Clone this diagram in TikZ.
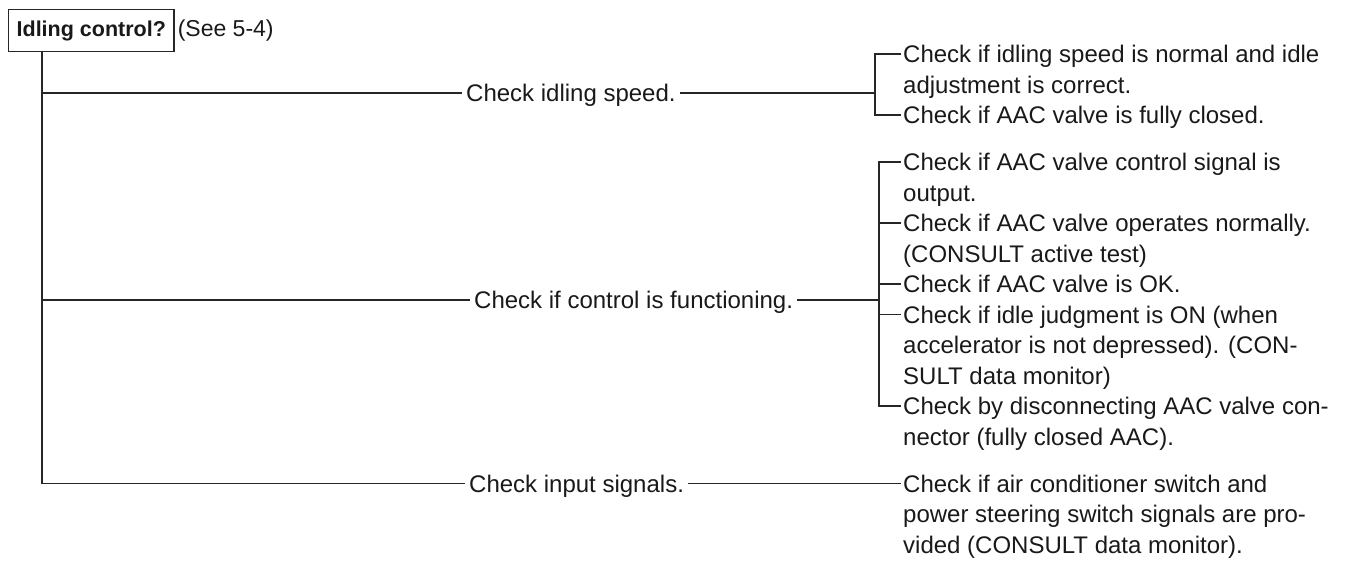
\documentclass[tikz,border=0pt]{standalone}
\usepackage{fontspec}
\setmainfont{Liberation Sans}
\usetikzlibrary{calc}
\begin{document}
\begin{tikzpicture}[x=1pt,y=-1pt,
  conn/.style={line width=1.3pt, draw=black!85},
  itembox/.style={anchor=north west, align=left, inner xsep=2pt, inner ysep=0pt,
    font=\fontsize{24}{30.5}\selectfont, text=black!90},
  branchbox/.style={anchor=west, inner xsep=4pt, inner ysep=0pt, text height=17pt, text depth=0pt,
    font=\fontsize{24}{30.5}\selectfont, text=black!90}]
\useasboundingbox (0,0) rectangle (1365,560);

% title box
\node[draw=black!85, line width=1.3pt, anchor=north west, font=\fontsize{21.5}{26}\selectfont\bfseries,
  text=black!90, minimum height=42pt, inner xsep=8pt] (box) at (8,9) {Idling control?};
\node[anchor=west, inner xsep=3pt, font=\fontsize{23}{28}\selectfont, text=black!90] (see) at (box.east) {(See 5-4)};

% junction coordinates
\coordinate (c1) at (42,93);
\coordinate (c2) at (42,300);
\coordinate (c3) at (42,483.5);
\coordinate (bk1) at (875,93);
\coordinate (bk2) at (879,300);

% branch labels
\node[branchbox] (br1) at (462,93) {Check idling speed.};
\node[branchbox] (br2) at (470,300) {Check if control is functioning.};
\node[branchbox] (br3) at (465,483.5) {Check input signals.};

% right-hand items
\node[itembox] (i1) at (901,41.15) {\strut Check if idling speed is normal and idle\\\strut adjustment is correct.};
\node[itembox] (i2) at (901,102.15) {\strut Check if AAC valve is fully closed.};
\node[itembox] (i3) at (901,149.15) {\strut Check if AAC valve control signal is\\\strut output.};
\node[itembox] (i4) at (901,210.15) {\strut Check if AAC valve operates normally.\\\strut (CONSULT active test)};
\node[itembox] (i5) at (901,271.15) {\strut Check if AAC valve is OK.};
\node[itembox] (i6) at (901,301.65) {\strut Check if idle judgment is ON (when\\\strut accelerator is not depressed). (CON-\\\strut SULT data monitor)};
\node[itembox] (i7) at (901,393.15) {\strut Check by disconnecting AAC valve con-\\\strut nector (fully closed AAC).};
\node[itembox] (i8) at (901,470.65) {\strut Check if air conditioner switch and\\\strut power steering switch signals are pro-\\\strut vided (CONSULT data monitor).};

% tick points
\coordinate (t1) at ($(i1.north west)+(0,12.85)$);
\coordinate (t2) at ($(i2.north west)+(0,12.85)$);
\coordinate (t3) at ($(i3.north west)+(0,12.85)$);
\coordinate (t4) at ($(i4.north west)+(0,12.85)$);
\coordinate (t5) at ($(i5.north west)+(0,12.85)$);
\coordinate (t6) at ($(i6.north west)+(0,12.85)$);
\coordinate (t7) at ($(i7.north west)+(0,12.85)$);
\coordinate (t8) at ($(i8.north west)+(0,12.85)$);

% main trunk
\draw[conn] (box.south -| c1) -- (c3) -- (br3.west);
\draw[conn] (c1) -- (br1.west);
\draw[conn] (c2) -- (br2.west);

% group 1
\draw[conn] (br1.east) -- (bk1);
\draw[conn] (t1) -| (bk1) |- (t2);

% group 2
\draw[conn] (br2.east) -- (bk2);
\draw[conn] (t3) -| (bk2) |- (t7);
\draw[conn] (t4) -- (t4 -| bk2);
\draw[conn] (t5) -- (t5 -| bk2);
\draw[conn] (t6) -- (t6 -| bk2);

% group 3
\draw[conn] (br3.east) -- (t8);
\end{tikzpicture}
\end{document}
